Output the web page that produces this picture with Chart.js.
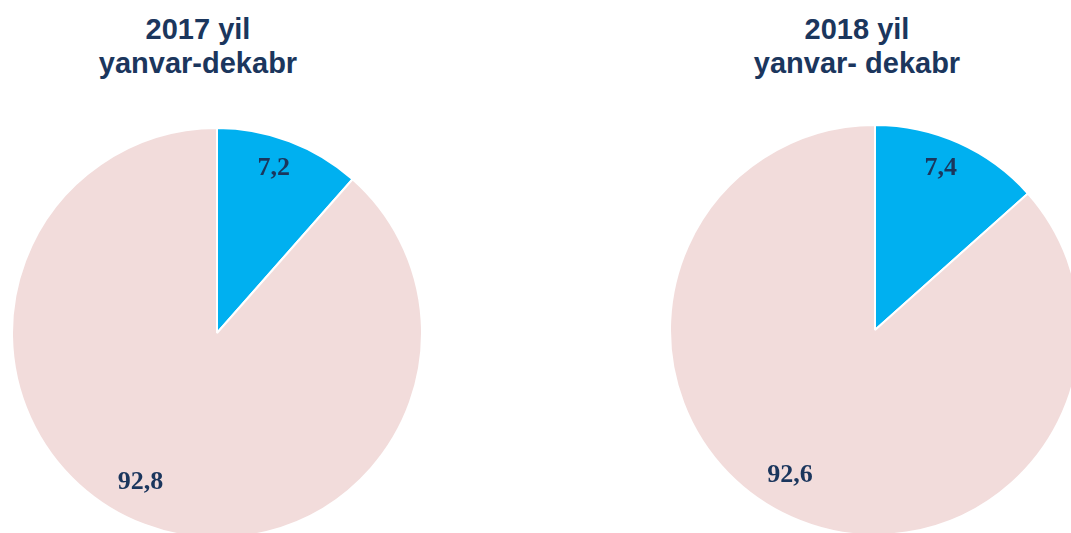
<!DOCTYPE html>
<html>
<head>
<meta charset="utf-8">
<script src="https://cdn.jsdelivr.net/npm/chart.js@4"></script>
<style>
  html, body { margin: 0; padding: 0; background: #fff; }
  #stage { position: relative; width: 1071px; height: 533px; overflow: hidden; }
  .title {
    position: absolute; width: 320px; text-align: center;
    font-family: "Liberation Sans", Arial, sans-serif; font-weight: bold;
    font-size: 29px; line-height: 34px; color: #1b365d;
  }
  .pie { position: absolute; width: 420px; height: 420px; }
</style>
</head>
<body>
<div id="stage">
  <div class="title" id="t1" style="left:38px; top:12px;"></div>
  <div class="title" id="t2" style="left:697px; top:12px;"></div>
  <div class="pie" style="left:7px; top:123px;"><canvas id="pie2017"></canvas></div>
  <div class="pie" style="left:665px; top:120px;"><canvas id="pie2018"></canvas></div>
</div>
<script>
// titles for each pie
const titles2017 = ["2017 yil", "yanvar-dekabr"];
const titles2018 = ["2018 yil", "yanvar- dekabr"];

// printed values (as shown on the slices)
const labels2017 = ["7,2", "92,8"];
const labels2018 = ["7,4", "92,6"];

// slice shares as drawn in the picture (the blue wedges are drawn wider than their printed values)
const shares2017 = [11.5, 88.5];
const shares2018 = [13.4, 86.6];

const sliceColors = ["#00b0f0", "#f2dcdb"];

// where along each slice / how far out the value sits
const labelAlong = [0.46, 0.52];
const labelOut = [0.85, 0.82];

document.getElementById("t1").innerHTML = titles2017.join("<br>");
document.getElementById("t2").innerHTML = titles2018.join("<br>");

// draws the printed value inside each slice
const sliceLabels = {
  id: "sliceLabels",
  afterDatasetsDraw(chart) {
    const ctx = chart.ctx;
    const meta = chart.getDatasetMeta(0);
    const texts = chart.options.plugins.sliceLabels.texts;
    ctx.save();
    ctx.font = "bold 26px 'Liberation Serif', 'Times New Roman', serif";
    ctx.fillStyle = "#1b365d";
    ctx.textAlign = "center";
    ctx.textBaseline = "middle";
    meta.data.forEach((arc, i) => {
      const p = arc.getProps(["x", "y", "startAngle", "endAngle", "outerRadius"], true);
      const a = p.startAngle + (p.endAngle - p.startAngle) * labelAlong[i];
      const r = p.outerRadius * labelOut[i];
      ctx.fillText(texts[i], p.x + Math.cos(a) * r, p.y + Math.sin(a) * r);
    });
    ctx.restore();
  },
};

function makePie(id, shares, texts) {
  return new Chart(document.getElementById(id), {
    type: "pie",
    data: {
      labels: texts,
      datasets: [{
        data: shares,
        backgroundColor: sliceColors,
        borderColor: "#ffffff",
        borderWidth: 2,
        radius: 205,
      }],
    },
    options: {
      responsive: true,
      maintainAspectRatio: false,
      animation: false,
      layout: { padding: 0 },
      plugins: {
        legend: { display: false },
        tooltip: { enabled: false },
        sliceLabels: { texts },
      },
    },
    plugins: [sliceLabels],
  });
}

makePie("pie2017", shares2017, labels2017);
makePie("pie2018", shares2018, labels2018);
</script>
</body>
</html>
